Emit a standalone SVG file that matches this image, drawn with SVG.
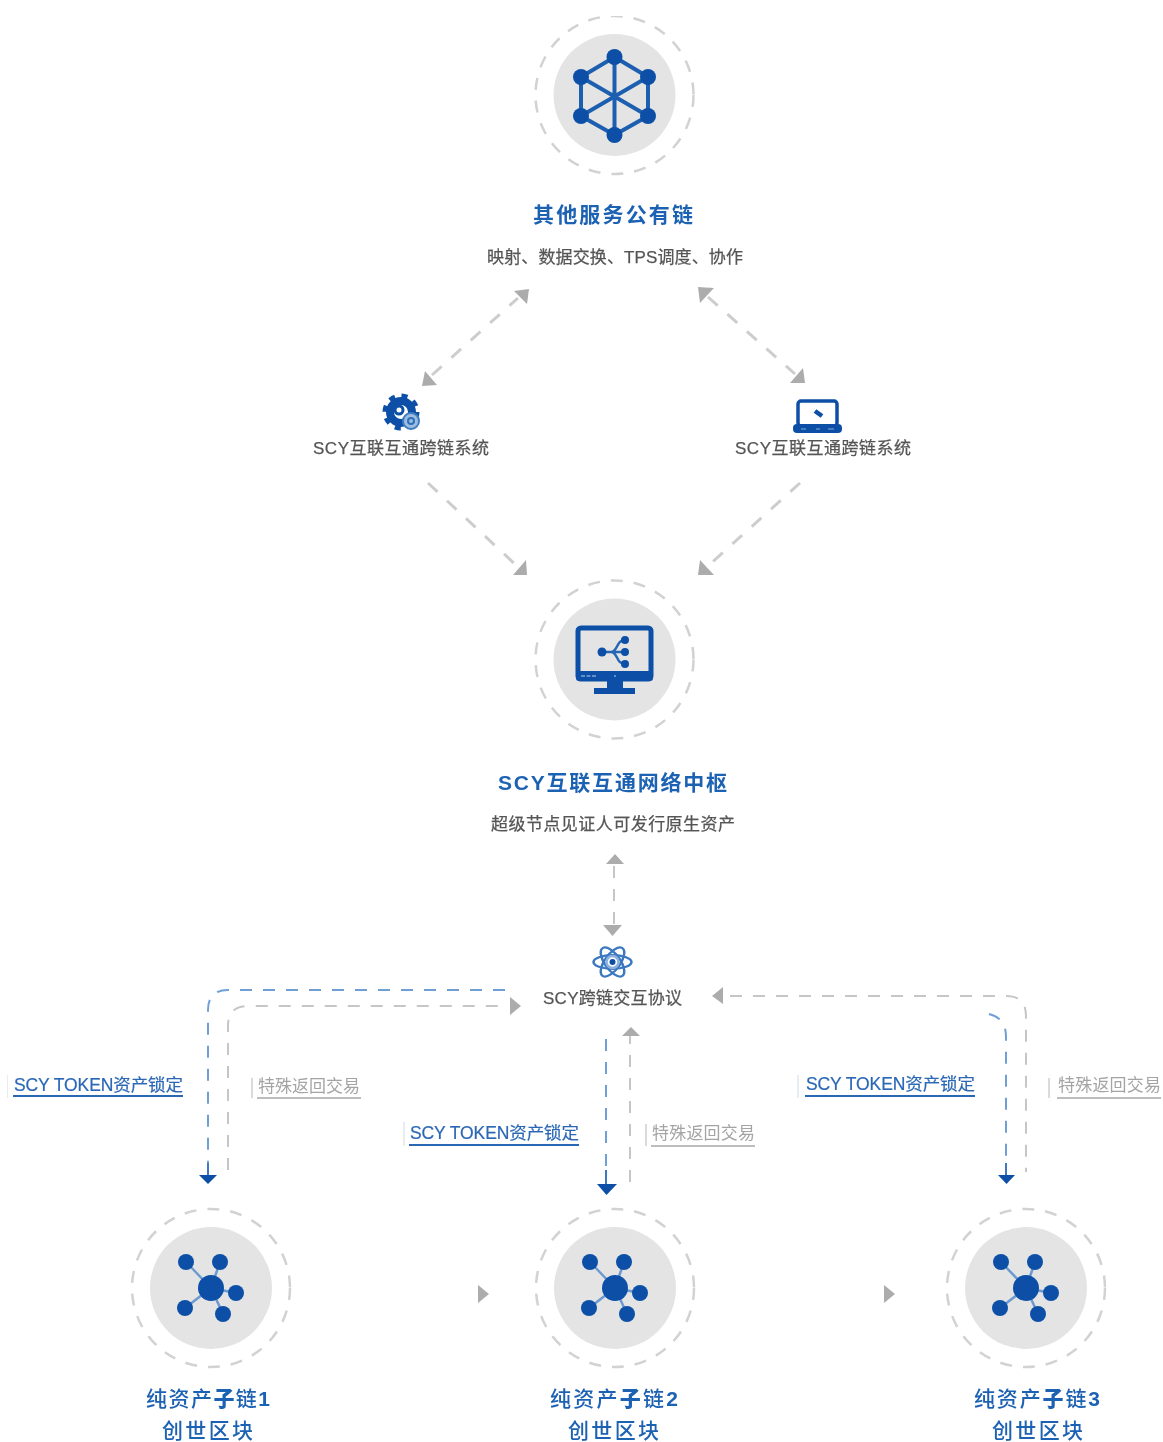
<svg xmlns="http://www.w3.org/2000/svg" width="1163" height="1442" viewBox="0 0 1163 1442">
<style>
text{font-family:"Liberation Sans","Noto Sans CJK SC",sans-serif}
.t{font-size:21px;fill:#1f62b3;font-weight:700}
.b{font-size:21px;fill:#1f62b3;font-weight:500}
.s{font-size:17px;fill:#555;stroke:#555;stroke-width:.25}
.lb{font-size:17.500px;fill:#2a67b5;stroke:#2a67b5;stroke-width:.2}
.lg{font-size:17px;fill:#a4a4a4}
.ring{fill:none;stroke:#d2d2d2;stroke-width:2.500;stroke-dasharray:12 11}
.disc{fill:#e4e4e4}
.ic{fill:#0a50a6}
.gl{fill:none;stroke:#cdcdcd;stroke-width:3;stroke-dasharray:13 13}
.gv{fill:none;stroke:#c6c6c6;stroke-width:2;stroke-dasharray:12 11}
.bv{fill:none;stroke:#6f9fd6;stroke-width:2;stroke-dasharray:12 11}
.stem{stroke:#3c78c0;stroke-width:2;fill:none}
.ga{fill:#acacac}
.ba{fill:#0a50a6}
.ub{stroke:#2a67b5;stroke-width:2}
.ug{stroke:#bdbdbd;stroke-width:2}
.bar{stroke:#dfe5ee;stroke-width:1.500}
.barg{stroke:#cfcfcf;stroke-width:1.500}
.ln{stroke:#1f5fb0;stroke-width:4;fill:none}
.hl{stroke:#6c9ad0;stroke-width:2.500}
</style>
<defs>
<filter id="soft" x="0" y="0" width="100%" height="100%"><feGaussianBlur stdDeviation="0.6"/></filter>
<g id="hub">
<path class="hl" d="M0 0L-25-26M0 0L9-26M0 0L25 5M0 0L12 26M0 0L-26 20"/>
<circle class="ic" r="13"/><circle class="ic" cx="-25" cy="-26" r="8"/><circle class="ic" cx="9" cy="-26" r="8"/><circle class="ic" cx="25" cy="5" r="8"/><circle class="ic" cx="12" cy="26" r="8"/><circle class="ic" cx="-26" cy="20" r="8"/>
</g>
</defs>
<rect width="1163" height="1442" fill="#fff"/>
<g filter="url(#soft)">
<g id="connectors">
<path class="gl" d="M432 375L518 298"/>
<path class="ga" d="M529 289L514 291L527 304Z"/>
<path class="ga" d="M422 386L437 385L425 371Z"/>
<path class="gl" d="M708 297L795 374"/>
<path class="ga" d="M698 287L714 288L700 303Z"/>
<path class="ga" d="M805 383L790 383L803 368Z"/>
<path class="gl" d="M428 483L517 566"/>
<path class="ga" d="M527 575L513 575L526 560Z"/>
<path class="gl" d="M800 483L708 566"/>
<path class="ga" d="M698 575L714 575L700 560Z"/>
<path class="gv" d="M614 866V925"/>
<path class="ga" d="M615 854L624 864H606Z"/>
<path class="ga" d="M603 925H622L612.500 936Z"/>
<path class="bv" d="M505 990H228Q208 990 208 1010V1163"/>
<path class="stem" d="M208 1163V1176"/>
<path class="ba" d="M199 1175H217L208 1184Z"/>
<path class="gv" d="M228 1170V1026Q228 1006 248 1006H505"/>
<path class="ga" d="M510 997L521 1006L510 1015Z"/>
<path class="bv" d="M606 1039V1170"/>
<path class="stem" d="M606 1170V1185"/>
<path class="ba" d="M597 1184H617L606.500 1195Z"/>
<path class="gv" d="M630 1182V1036"/>
<path class="ga" d="M631 1027L640 1036H622Z"/>
<path class="gv" d="M730 996H1006Q1026 996 1026 1016V1172"/>
<path class="ga" d="M723 987L712 996L723 1004Z"/>
<path class="bv" d="M989 1014Q1006 1018 1006 1037V1163"/>
<path class="stem" d="M1006 1163V1175"/>
<path class="ba" d="M998 1175H1015L1006.500 1184Z"/>
<path class="ga" d="M478 1285L489 1294L478 1303Z"/>
<path class="ga" d="M884 1285L895 1294L884 1303Z"/>
</g>
<g id="node-public-chain">
<circle class="ring" cx="614.500" cy="95" r="79"/><circle class="disc" cx="614.500" cy="95" r="61"/>
<path class="ln" d="M614.500 57L648 77V116L614.500 135L581 116V77ZM614.500 57V135M581 77L648 116M648 77L581 116"/>
<g class="ic"><circle cx="614.500" cy="57" r="8"/><circle cx="648" cy="77" r="8"/><circle cx="648" cy="116" r="8"/><circle cx="614.500" cy="135" r="8"/><circle cx="581" cy="116" r="8"/><circle cx="581" cy="77" r="8"/></g>
<text class="t" x="533" y="222" textLength="160">其他服务公有链</text>
<text class="s" x="487" y="263" textLength="256">映射、数据交换、TPS调度、协作</text>
</g>
<g id="node-system-left">
<circle cx="401" cy="412" r="16" fill="none" stroke="#0a50a6" stroke-width="5" stroke-dasharray="6 6.570"/>
<circle cx="401" cy="412" r="11" fill="none" stroke="#0a50a6" stroke-width="8"/>
<circle cx="399" cy="410" r="4" fill="none" stroke="#0a50a6" stroke-width="3"/>
<circle cx="411" cy="421" r="8" fill="#9dbde0" stroke="#3f7cc2" stroke-width="2"/>
<circle cx="411" cy="421" r="3" fill="none" stroke="#2f6fb8" stroke-width="2"/>
<text class="s" x="313" y="454" textLength="176">SCY互联互通跨链系统</text>
</g>
<g id="node-system-right">
<rect x="798" y="401" width="39" height="25" rx="3" fill="#fff" stroke="#0a50a6" stroke-width="3.500"/>
<path d="M815 411L822 416" stroke="#0a50a6" stroke-width="4.500"/>
<rect x="793" y="424" width="49" height="9" rx="4" fill="#0a50a6"/>
<path d="M801 429H806M816 429H820M828 429H834" stroke="#7fa6d6" stroke-width="1.200"/>
<text class="s" x="735" y="454" textLength="176">SCY互联互通跨链系统</text>
</g>
<g id="node-hub">
<circle class="ring" cx="614.500" cy="659.500" r="79"/><circle class="disc" cx="614.500" cy="659.500" r="61"/>
<rect x="578" y="628" width="73" height="51" rx="3" fill="#e4e4e4" stroke="#0a50a6" stroke-width="5"/>
<path class="ic" d="M576 671H653V678Q653 681 650 681H579Q576 681 576 678Z"/>
<path d="M581 676H596M614 676H616" stroke="#7fa6d6" stroke-width="1.500" stroke-dasharray="4 1.500"/>
<path class="ic" d="M607 681H623V688H635V694H594V688H607Z"/>
<path d="M602 652H625M611 652C618 652 616 640 625 640M611 652C618 652 616 664 625 664" fill="none" stroke="#2766b4" stroke-width="2.500"/>
<g class="ic"><circle cx="602" cy="652" r="4.500"/><circle cx="625" cy="640" r="4"/><circle cx="625" cy="652" r="4"/><circle cx="625" cy="664" r="4"/></g>
<text class="t" x="498" y="790" textLength="229">SCY互联互通网络中枢</text>
<text class="s" x="491" y="830" textLength="244">超级节点见证人可发行原生资产</text>
</g>
<g id="node-protocol">
<g transform="translate(612.500 962) scale(1 .86)" fill="none" stroke="#3b78c0" stroke-width="2.500">
<ellipse rx="19" ry="8"/>
<ellipse rx="19" ry="8" transform="rotate(60)"/>
<ellipse rx="19" ry="8" transform="rotate(120)"/>
</g>
<circle cx="612.500" cy="962" r="6" fill="none" stroke="#8db2dd" stroke-width="2.500"/>
<circle class="ic" cx="612.500" cy="962" r="3"/>
<text class="s" x="543" y="1004" textLength="139">SCY跨链交互协议</text>
</g>
<g id="labels">
<path class="bar" d="M7 1075V1098M404 1122V1146M798 1075V1098"/>
<path class="barg" d="M252 1078V1098M646 1124V1146M1049 1078V1098"/>
<text class="lb" x="14" y="1091" textLength="169">SCY TOKEN资产锁定</text>
<path class="ub" d="M13 1096H183"/>
<text class="lg" x="258" y="1092" textLength="102">特殊返回交易</text>
<path class="ug" d="M257 1098H361"/>
<text class="lb" x="410" y="1139" textLength="169">SCY TOKEN资产锁定</text>
<path class="ub" d="M409 1145H579"/>
<text class="lg" x="652" y="1139" textLength="103">特殊返回交易</text>
<path class="ug" d="M651 1146H755"/>
<text class="lb" x="806" y="1090" textLength="169">SCY TOKEN资产锁定</text>
<path class="ub" d="M805 1096H975"/>
<text class="lg" x="1058" y="1091" textLength="103">特殊返回交易</text>
<path class="ug" d="M1057 1098H1161"/>
</g>
<g id="node-chain-1">
<circle class="ring" cx="211" cy="1288" r="79"/><circle class="disc" cx="211" cy="1288" r="61"/>
<use href="#hub" x="211" y="1288"/>
<text class="b" x="146" y="1406" textLength="124">纯资产<tspan font-weight="900">子</tspan>链<tspan font-weight="700">1</tspan></text>
<text class="b" x="162" y="1438" textLength="91">创世区块</text>
</g>
<g id="node-chain-2">
<circle class="ring" cx="615" cy="1288" r="79"/><circle class="disc" cx="615" cy="1288" r="61"/>
<use href="#hub" x="615" y="1288"/>
<text class="b" x="550" y="1406" textLength="128">纯资产<tspan font-weight="900">子</tspan>链<tspan font-weight="700">2</tspan></text>
<text class="b" x="568" y="1438" textLength="91">创世区块</text>
</g>
<g id="node-chain-3">
<circle class="ring" cx="1026" cy="1288" r="79"/><circle class="disc" cx="1026" cy="1288" r="61"/>
<use href="#hub" x="1026" y="1288"/>
<text class="b" x="974" y="1406" textLength="126">纯资产<tspan font-weight="900">子</tspan>链<tspan font-weight="700">3</tspan></text>
<text class="b" x="992" y="1438" textLength="91">创世区块</text>
</g>
</g>
</svg>
